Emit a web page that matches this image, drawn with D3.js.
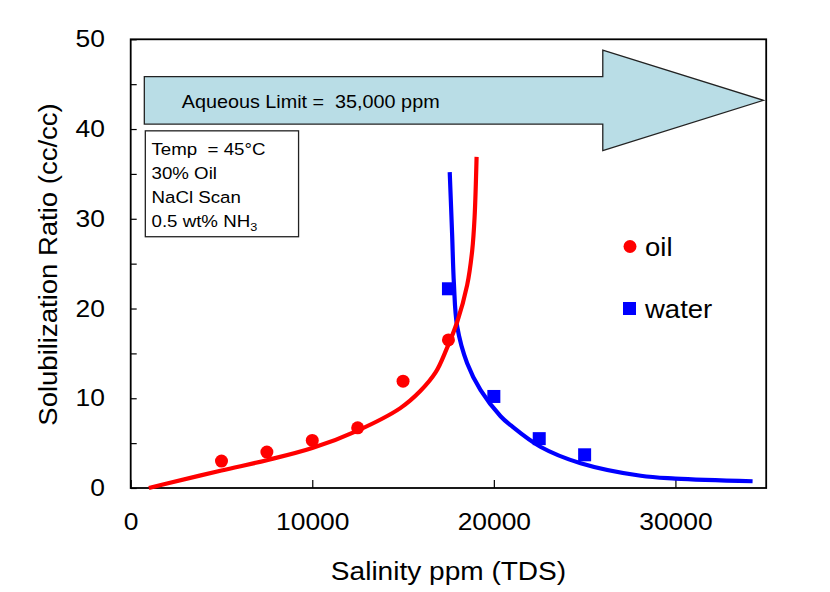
<!DOCTYPE html>
<html>
<head>
<meta charset="utf-8">
<script src="https://cdn.jsdelivr.net/npm/d3@7"></script>
<style>
  body { margin: 0; background: #fff; }
  svg { font-family: "Liberation Sans", Arial, sans-serif; }
</style>
</head>
<body>
<svg id="chart" width="830" height="592"></svg>
<script>
// measured points (salinity ppm, solubilization ratio)
var oilSalinity = [5000, 7500, 10000, 12500, 15000, 17500],
    oilRatio    = [3.0, 4.0, 5.3, 6.7, 11.9, 16.5];

var waterSalinity = [17500, 20000, 22500, 25000],
    waterRatio    = [22.2, 10.2, 5.5, 3.7];

// fitted curves
var oilFitX = [1000, 2000, 5000, 7500, 10000, 12500, 14850, 15950, 16800, 17400, 17980, 18530, 18810, 18940, 19050],
    oilFitY = [0, 0.5, 1.95, 3.1, 4.45, 6.4, 8.9, 10.8, 12.9, 15.5, 18.5, 22.6, 26.5, 30.2, 36.9];

var waterFitX = [17570, 17700, 17800, 17980, 18530, 19270, 20370, 20920, 22560, 24780, 28090, 30000, 34250],
    waterFitY = [35.2, 28.4, 22.8, 18.0, 13.9, 10.9, 8.0, 7.0, 4.6, 2.76, 1.36, 1.05, 0.75];

var xTicks = [0, 10000, 20000, 30000],
    yTicks = [0, 10, 20, 30, 40, 50],
    yMinor = [5, 15, 25, 35, 45];

var infoLines = ["Temp  = 45\u00B0C", "30% Oil", "NaCl Scan", "0.5 wt% NH"];
var arrowLabel = "Aqueous Limit =  35,000 ppm";

var svg = d3.select("#chart");

var plotLeft = 130.7, plotTop = 39.3, plotRight = 766.2, plotBottom = 488,
    stretch = 1.1;

var x = d3.scaleLinear().domain([0, 35000]).range([plotLeft, plotRight]),
    y = d3.scaleLinear().domain([0, 50]).range([plotBottom, plotTop]);

function wide(sel, px, py) {
  sel.attr("transform", "translate(" + px + "," + py + ") scale(" + stretch + ",1)");
}

// ticks (inward)
svg.append("g")
    .attr("transform", "translate(0," + plotBottom + ")")
    .call(d3.axisBottom(x).tickValues(xTicks).tickSize(-8).tickPadding(25).tickFormat(d3.format("d")))
    .call(function(g) {
      g.select(".domain").remove();
      g.selectAll("line").attr("stroke", "#000").attr("stroke-width", 1.2);
      g.selectAll("text").attr("font-size", 24).attr("fill", "#000")
        .attr("font-family", "Liberation Sans, Arial, sans-serif")
        .attr("transform", "scale(" + stretch + ",1)");
    });

svg.append("g")
    .attr("transform", "translate(" + plotLeft + ",0)")
    .call(d3.axisLeft(y).tickValues(yTicks.concat(yMinor)).tickSize(-6).tickPadding(23.4)
      .tickFormat(function(d) { return yTicks.indexOf(d) >= 0 ? d : ""; }))
    .call(function(g) {
      g.select(".domain").remove();
      g.selectAll("line").attr("stroke", "#000").attr("stroke-width", 1.2);
      g.selectAll("text").attr("font-size", 24).attr("fill", "#000")
        .attr("font-family", "Liberation Sans, Arial, sans-serif")
        .attr("transform", "scale(" + stretch + ",1)");
    });

// frame
svg.append("rect")
    .attr("x", plotLeft).attr("y", plotTop)
    .attr("width", plotRight - plotLeft).attr("height", plotBottom - plotTop)
    .attr("fill", "none").attr("stroke", "#000").attr("stroke-width", 1.8);

// arrow annotation (data units)
var ax0 = 750, axNeck = 26000, axTip = 34850,
    ayMid = 43.2, bodyHalf = 2.65, headHalf = 5.6;
var arrowPts = [
  [ax0, ayMid + bodyHalf], [axNeck, ayMid + bodyHalf], [axNeck, ayMid + headHalf],
  [axTip, ayMid], [axNeck, ayMid - headHalf], [axNeck, ayMid - bodyHalf], [ax0, ayMid - bodyHalf]
];
svg.append("polygon")
    .attr("points", arrowPts.map(function(p) { return x(p[0]) + "," + y(p[1]); }).join(" "))
    .attr("fill", "#b9dde6")
    .attr("stroke", "#222")
    .attr("stroke-width", 1.3);

svg.append("text")
    .call(wide, 181.7, 107.5)
    .attr("font-size", 18)
    .style("white-space", "pre")
    .text(arrowLabel);

// info box
svg.append("rect")
    .attr("x", x(805)).attr("y", y(39.8))
    .attr("width", x(9245) - x(805)).attr("height", y(28.0) - y(39.8))
    .attr("fill", "#fff").attr("stroke", "#222").attr("stroke-width", 1.3);

var info = svg.append("g");
infoLines.forEach(function(s, i) {
  var t = info.append("text")
      .call(wide, 151.5, 155 + i * 24)
      .attr("font-size", 17)
      .style("white-space", "pre")
      .text(s);
  if (i == infoLines.length - 1) {
    t.append("tspan").attr("font-size", 11.5).attr("dy", 4).text("3");
  }
});

// fitted curves
var line = d3.line()
    .x(function(d) { return x(d[0]); })
    .y(function(d) { return y(d[1]); })
    .curve(d3.curveCatmullRom.alpha(0.5));

svg.append("path")
    .datum(d3.zip(waterFitX, waterFitY))
    .attr("d", line)
    .attr("fill", "none").attr("stroke", "#0000ff").attr("stroke-width", 4.2);

svg.append("path")
    .datum(d3.zip(oilFitX, oilFitY))
    .attr("d", line)
    .attr("fill", "none").attr("stroke", "#ff0000").attr("stroke-width", 4.2);

// markers
svg.selectAll(".oil")
    .data(d3.zip(oilSalinity, oilRatio))
  .enter().append("circle")
    .attr("class", "oil")
    .attr("cx", function(d) { return x(d[0]); })
    .attr("cy", function(d) { return y(d[1]); })
    .attr("r", 6.5)
    .attr("fill", "#ff0000");

svg.selectAll(".water")
    .data(d3.zip(waterSalinity, waterRatio))
  .enter().append("rect")
    .attr("class", "water")
    .attr("x", function(d) { return x(d[0]) - 6.5; })
    .attr("y", function(d) { return y(d[1]) - 6.5; })
    .attr("width", 13).attr("height", 13)
    .attr("fill", "#0000ff");

// legend
svg.append("circle").attr("cx", 630).attr("cy", 246.5).attr("r", 6.5).attr("fill", "#ff0000");
svg.append("text").call(wide, 645, 255.7).attr("font-size", 25).text("oil");
svg.append("rect").attr("x", 623).attr("y", 302).attr("width", 13).attr("height", 13).attr("fill", "#0000ff");
svg.append("text").call(wide, 645, 317.5).attr("font-size", 25).text("water");

// axis titles
svg.append("text")
    .attr("transform", "translate(448.5,579.5) scale(" + stretch + ",1)")
    .attr("text-anchor", "middle")
    .attr("font-size", 25.5)
    .text("Salinity ppm (TDS)");

svg.append("text")
    .attr("transform", "translate(56.5,264.5) rotate(-90) scale(" + stretch + ",1)")
    .attr("text-anchor", "middle")
    .attr("font-size", 25)
    .text("Solubilization Ratio (cc/cc)");
</script>
</body>
</html>
